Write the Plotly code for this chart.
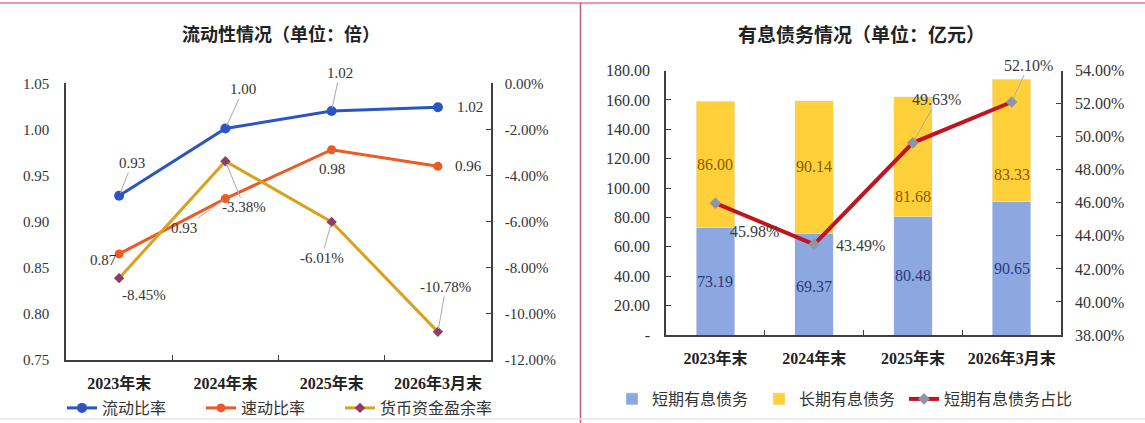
import plotly.graph_objects as go

# ---------------- data ----------------
periods = ["2023年末", "2024年末", "2025年末", "2026年3月末"]

current_ratio = [0.928, 1.001, 1.020, 1.024]
current_ratio_labels = ["0.93", "1.00", "1.02", "1.02"]
quick_ratio = [0.865, 0.925, 0.978, 0.960]
quick_ratio_labels = ["0.87", "0.93", "0.98", "0.96"]
cash_surplus_pct = [-8.45, -3.38, -6.01, -10.78]

short_debt = [73.19, 69.37, 80.48, 90.65]
long_debt = [86.00, 90.14, 81.68, 83.33]
short_share_pct = [45.98, 43.49, 49.63, 52.10]

left_yticks = [0.75, 0.80, 0.85, 0.90, 0.95, 1.00, 1.05]
left_y2ticks = [0, -2, -4, -6, -8, -10, -12]
right_yticks = [0, 20, 40, 60, 80, 100, 120, 140, 160, 180]
right_y2ticks = [38, 40, 42, 44, 46, 48, 50, 52, 54]

# ---------------- styles ----------------
W, H = 1145, 423
SERIF = "Liberation Serif, Noto Sans CJK SC, serif"
CJK = "Noto Sans CJK SC, sans-serif"
AXC = "#3f3f3f"
LBL = "#333333"

BLUE = "#2C55C4"
ORANGE = "#EE5A26"
GOLD = "#D9A21E"
GOLD_MK = "#8E3E62"
BAR_BLUE = "#8DA8E0"
BAR_YEL = "#FFD03A"
RED = "#C0141E"

def px_x(p):
    return p / W

def px_y(p):
    return 1 - p / H

fig = go.Figure()

# ---- left chart ----
fig.add_trace(go.Scatter(x=periods, y=current_ratio, name="流动比率", mode="lines+markers",
                         line=dict(color=BLUE, width=3), marker=dict(size=10, color=BLUE),
                         xaxis="x", yaxis="y", legend="legend", legendwidth=94))
fig.add_trace(go.Scatter(x=periods, y=quick_ratio, name="速动比率", mode="lines+markers",
                         line=dict(color=ORANGE, width=3), marker=dict(size=9, color=ORANGE),
                         xaxis="x", yaxis="y", legend="legend", legendwidth=94))
fig.add_trace(go.Scatter(x=periods, y=cash_surplus_pct, name="货币资金盈余率", mode="lines+markers",
                         line=dict(color=GOLD, width=3),
                         marker=dict(size=8, color=GOLD_MK, symbol="diamond"),
                         xaxis="x", yaxis="y2", legend="legend", legendwidth=118))

# ---- right chart ----
fig.add_trace(go.Bar(x=periods, y=short_debt, name="短期有息债务", marker=dict(color=BAR_BLUE),
                     width=0.39, xaxis="x2", yaxis="y3", legend="legend2", legendwidth=102))
fig.add_trace(go.Bar(x=periods, y=long_debt, name="长期有息债务", marker=dict(color=BAR_YEL),
                     width=0.39, xaxis="x2", yaxis="y3", legend="legend2", legendwidth=100))
fig.add_trace(go.Scatter(x=periods, y=short_share_pct, name="短期有息债务占比", mode="lines+markers",
                         line=dict(color=RED, width=4),
                         marker=dict(size=9, color="#8C96A8", symbol="diamond"),
                         xaxis="x2", yaxis="y4", legend="legend2"))

annotations = []

# titles
annotations.append(dict(text="<b>流动性情况（单位：倍）</b>", x=px_x(281), y=px_y(33), xref="paper", yref="paper",
                        xanchor="center", yanchor="middle", showarrow=False,
                        font=dict(family=CJK, size=18, color="#222")))
annotations.append(dict(text="<b>有息债务情况（单位：亿元）</b>", x=px_x(861), y=px_y(33), xref="paper", yref="paper",
                        xanchor="center", yanchor="middle", showarrow=False,
                        font=dict(family=CJK, size=19, color="#222")))

# point labels (offset style lists)
cur_off = [(13, -33, True), (18, -39, True), (8, -38, True), (32, 0, False)]
quick_off = [(-16, 6, False), (-41, 29, True), (0, 19, False), (31, 0, False)]
cash_off = [(25, 17, False), (19, 46, True), (-10, 36, True), (8, -45, True)]
share_off = [(39, 28, False), (46, 1, False), (24, -43, True), (17, -37, True)]

def add_labels(xs, ys, texts, offs, yref, xref, size, color=LBL, lead="#A8A8A8"):
    for xv, yv, t, (ax, ay, leader) in zip(xs, ys, texts, offs):
        if leader:
            annotations.append(dict(x=xv, y=yv, xref=xref, yref=yref, text=t, showarrow=True,
                                    arrowhead=0, arrowwidth=1, arrowcolor=lead, ax=ax, ay=ay,
                                    standoff=3, font=dict(family=SERIF, size=size, color=color)))
        else:
            annotations.append(dict(x=xv, y=yv, xref=xref, yref=yref, text=t, showarrow=False,
                                    xshift=ax, yshift=-ay, font=dict(family=SERIF, size=size, color=color)))

add_labels(periods, current_ratio, current_ratio_labels, cur_off, "y", "x", 15)
add_labels(periods, quick_ratio, quick_ratio_labels, quick_off, "y", "x", 15)
add_labels(periods, cash_surplus_pct, [f"{v:.2f}%" for v in cash_surplus_pct], cash_off, "y2", "x", 15)
add_labels(periods, short_share_pct, [f"{v:.2f}%" for v in short_share_pct], share_off, "y4", "x2", 16,
           color="#3a3a3a", lead="#9AB0C0")

# bar value labels
short_shift = [0, -2, 0, 0]
long_shift = [0, 0, -40, -34]
for p, s, l, ss, ls in zip(periods, short_debt, long_debt, short_shift, long_shift):
    annotations.append(dict(x=p, y=s / 2, xref="x2", yref="y3", text=f"{s:.2f}", showarrow=False,
                            yshift=ss, font=dict(family=SERIF, size=16, color="#2B3A78")))
    annotations.append(dict(x=p, y=s + l / 2, xref="x2", yref="y3", text=f"{l:.2f}", showarrow=False,
                            yshift=ls, font=dict(family=SERIF, size=16, color="#8A5A00")))

axis_common = dict(showline=True, linecolor=AXC, linewidth=1.5, showgrid=False, zeroline=False)
cat_font = dict(family=SERIF, size=16, color="#222", weight="bold")

fig.update_layout(
    width=W, height=H,
    margin=dict(l=0, r=0, t=0, b=0, autoexpand=False),
    paper_bgcolor="white", plot_bgcolor="white",
    barmode="stack",
    font=dict(family=SERIF, color="#222"),
    xaxis=dict(domain=[px_x(66), px_x(491)], anchor="y", type="category", range=[-0.5, 3.5],
               ticks="inside", tickson="boundaries", ticklen=5, tickcolor=AXC,
               tickfont=cat_font, ticklabelstandoff=8, automargin=False, **axis_common),
    yaxis=dict(domain=[px_y(360), px_y(83.3)], anchor="x", range=[0.75, 1.05],
               tickvals=left_yticks, tickformat=".2f", ticks="", automargin=False,
               tickfont=dict(family=SERIF, size=15, color="#333"), ticklabelstandoff=12, **axis_common),
    yaxis2=dict(overlaying="y", anchor="x", side="right", range=[-12, 0], automargin=False,
                tickvals=left_y2ticks, ticktext=[f"{v:.2f}%" for v in left_y2ticks],
                ticks="inside", ticklen=5, tickcolor=AXC,
                tickfont=dict(family=SERIF, size=15, color="#333"), ticklabelstandoff=9, **axis_common),
    xaxis2=dict(domain=[px_x(666), px_x(1061)], anchor="y3", type="category", range=[-0.5, 3.5],
                ticks="inside", tickson="boundaries", ticklen=5, tickcolor=AXC, automargin=False,
                tickfont=cat_font, ticklabelstandoff=8, **axis_common),
    yaxis3=dict(domain=[px_y(335), px_y(70.6)], anchor="x2", range=[0, 180], automargin=False,
                tickvals=right_yticks, ticktext=["-" if v == 0 else f"{v:.2f}" for v in right_yticks],
                ticks="inside", ticklen=5, tickcolor=AXC,
                tickfont=dict(family=SERIF, size=16, color="#333"), ticklabelstandoff=11, **axis_common),
    yaxis4=dict(overlaying="y3", anchor="x2", side="right", range=[38, 54], automargin=False,
                tickvals=right_y2ticks, ticktext=[f"{v:.2f}%" for v in right_y2ticks],
                ticks="inside", ticklen=5, tickcolor=AXC,
                tickfont=dict(family=SERIF, size=16, color="#333"), ticklabelstandoff=9, **axis_common),
    legend=dict(orientation="h", x=px_x(62), y=px_y(408), xanchor="left", yanchor="middle",
                bgcolor="rgba(0,0,0,0)", traceorder="normal",
                font=dict(family=CJK, size=16, color="#333")),
    legend2=dict(orientation="h", x=px_x(612), y=px_y(399), xanchor="left", yanchor="middle",
                 bgcolor="rgba(0,0,0,0)", traceorder="normal",
                 font=dict(family=CJK, size=16, color="#333")),
    annotations=annotations,
    shapes=[
        dict(type="line", xref="paper", yref="paper", x0=0, x1=1, y0=px_y(3), y1=px_y(3),
             line=dict(color="#E39AAE", width=2)),
        dict(type="line", xref="paper", yref="paper", x0=px_x(580.5), x1=px_x(580.5), y0=0, y1=px_y(3),
             line=dict(color="#C85A74", width=1.5)),
        dict(type="line", xref="paper", yref="paper", x0=0, x1=1, y0=px_y(419), y1=px_y(419),
             line=dict(color="#E6E6E6", width=1.5)),
    ],
    showlegend=True,
)

fig.write_html("out.html", config={"displayModeBar": False},
               post_script="document.body.style.margin='0';document.body.style.overflow='hidden';")
